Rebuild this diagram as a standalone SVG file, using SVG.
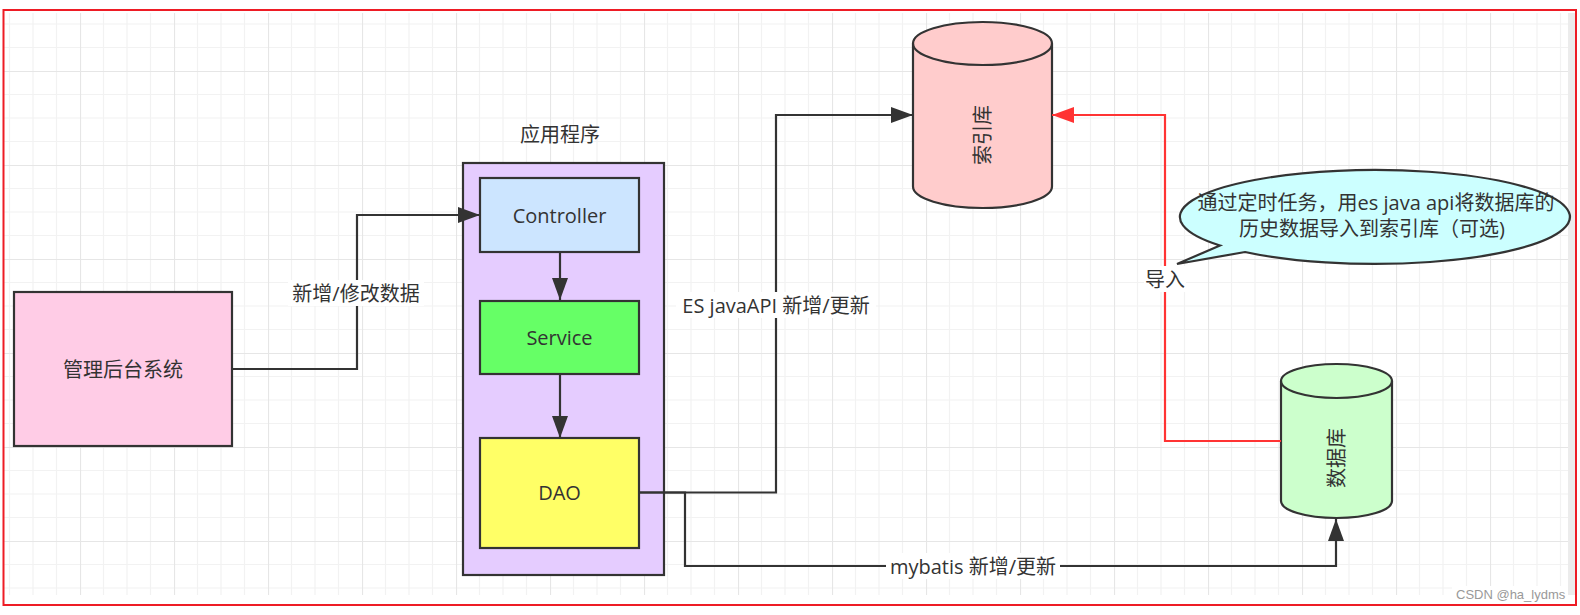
<svg xmlns="http://www.w3.org/2000/svg" width="1580" height="615" viewBox="0 0 1580 615">
<style>
.box{stroke:#333;stroke-width:2.2}
.t{font-family:"Open Sans","Noto Sans CJK SC",sans-serif;font-size:20px;fill:#333;text-anchor:middle;dominant-baseline:central}
.edge{fill:none;stroke:#333;stroke-width:2.2}
.red{fill:none;stroke:#ff3333;stroke-width:2.2}
.lbl{fill:#fff}
</style>
<defs>
<pattern id="grid" x="-14" y="71" width="94" height="94" patternUnits="userSpaceOnUse">
<path d="M23.5,0V94M47,0V94M70.5,0V94M0,23.5H94M0,47H94M0,70.5H94" stroke="#f2f2f2" stroke-width="1.2" fill="none"/>
<path d="M0.5,0V94M0,0.5H94" stroke="#e6e6e6" stroke-width="1.2" fill="none"/>
</pattern>
<marker id="arr" markerUnits="userSpaceOnUse" markerWidth="24" markerHeight="18" refX="22" refY="8" orient="auto">
<path d="M0,0L22,8L0,16Z" fill="#333"/>
</marker>
<marker id="arrR" markerUnits="userSpaceOnUse" markerWidth="24" markerHeight="18" refX="22" refY="8" orient="auto">
<path d="M0,0L22,8L0,16Z" fill="#ff3333"/>
</marker>
</defs>
<rect width="1580" height="615" fill="#fff"/>
<rect x="4" y="13" width="1564" height="582" fill="url(#grid)"/>
<rect x="1568" y="13" width="7" height="582" fill="#ececec"/>
<rect x="1452" y="586" width="116" height="17" fill="#fff"/>
<rect x="3.5" y="10" width="1572.5" height="595" fill="none" stroke="#ee1c25" stroke-width="2"/>

<g id="admin">
<rect class="box" x="14" y="292" width="218" height="154" fill="#ffcce6"/>
<text class="t" x="123" y="369">管理后台系统</text>
</g>

<g id="app">
<rect class="box" x="463" y="163" width="201" height="412" fill="#e5ccff"/>
<text class="t" x="560" y="134">应用程序</text>
</g>

<g id="controller">
<rect class="box" x="480" y="178" width="159" height="74" fill="#cce5ff"/>
<text class="t" x="559.5" y="215">Controller</text>
</g>

<g id="service">
<rect class="box" x="480" y="301" width="159" height="73" fill="#66ff66"/>
<text class="t" x="559.5" y="337">Service</text>
</g>

<g id="dao">
<rect class="box" x="480" y="438" width="159" height="110" fill="#ffff66"/>
<text class="t" x="559.5" y="492.5">DAO</text>
</g>

<g id="index">
<path class="box" d="M913,43.5A69.5,21.5 0 0 1 1052,43.5V186.5A69.5,21.5 0 0 1 913,186.5Z" fill="#ffcccc"/>
<path class="box" d="M913,43.5A69.5,21.5 0 0 0 1052,43.5" fill="none"/>
<text class="t" transform="translate(982.5,135) rotate(-90)">索引库</text>
</g>

<g id="db">
<path class="box" d="M1281,381A55.5,17 0 0 1 1392,381V501A55.5,17 0 0 1 1281,501Z" fill="#ccffcc"/>
<path class="box" d="M1281,381A55.5,17 0 0 0 1392,381" fill="none"/>
<text class="t" transform="translate(1336.5,458) rotate(-90)">数据库</text>
</g>

<g id="callout">
<path class="box" d="M1220,245.5L1177,264L1245,252A195,47 0 1 0 1220,245.5Z" fill="#ccffff"/>
<text class="t" x="1376" y="202">通过定时任务，用es java api将数据库的</text>
<text class="t" x="1372" y="228">历史数据导入到索引库（可选)</text>
</g>

<g id="connectors">
<path class="edge" d="M232,369H357V215H480" marker-end="url(#arr)"/>
<path class="edge" d="M560,252V300" marker-end="url(#arr)"/>
<path class="edge" d="M560,374V438" marker-end="url(#arr)"/>
<path class="edge" d="M639,492.5H776V115H913" marker-end="url(#arr)"/>
<path class="edge" d="M639,492.5H685V566H1336V519" marker-end="url(#arr)"/>
<path class="red" d="M1281,441H1165V115H1052" marker-end="url(#arrR)"/>
<rect class="lbl" x="288" y="280" width="136" height="26"/>
<text class="t" x="356" y="293">新增/修改数据</text>
<rect class="lbl" x="676" y="292" width="200" height="26"/>
<text class="t" x="776" y="305">ES javaAPI 新增/更新</text>
<rect class="lbl" x="886" y="553" width="174" height="26"/>
<text class="t" x="973" y="566">mybatis 新增/更新</text>
<rect class="lbl" x="1144" y="266" width="42" height="26"/>
<text class="t" x="1165" y="279">导入</text>
</g>

<text x="1456" y="599" font-family="Liberation Sans, Arial, sans-serif" font-size="13" fill="#999">CSDN @ha_lydms</text>
</svg>
